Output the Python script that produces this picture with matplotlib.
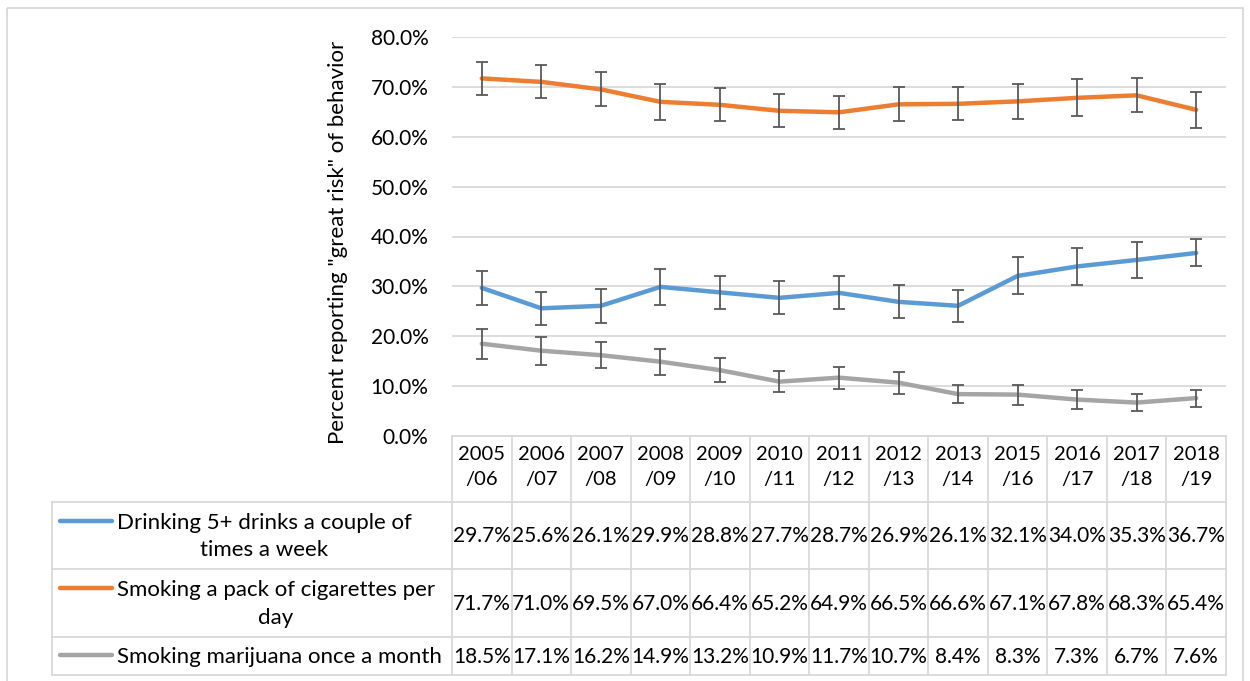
import matplotlib
matplotlib.use("Agg")
import matplotlib.pyplot as plt
import numpy as np

plt.rcParams["font.family"] = ["Lato", "DejaVu Sans"]

# --- data ---
years = ["2005/06", "2006/07", "2007/08", "2008/09", "2009/10", "2010/11", "2011/12",
         "2012/13", "2013/14", "2015/16", "2016/17", "2017/18", "2018/19"]
drinking = [29.7, 25.6, 26.1, 29.9, 28.8, 27.7, 28.7, 26.9, 26.1, 32.1, 34.0, 35.3, 36.7]
cigarettes = [71.7, 71.0, 69.5, 67.0, 66.4, 65.2, 64.9, 66.5, 66.6, 67.1, 67.8, 68.3, 65.4]
marijuana = [18.5, 17.1, 16.2, 14.9, 13.2, 10.9, 11.7, 10.7, 8.4, 8.3, 7.3, 6.7, 7.6]
# error bar half-widths (percentage points)
drinking_err = [3.4, 3.3, 3.4, 3.6, 3.3, 3.3, 3.3, 3.3, 3.2, 3.7, 3.7, 3.6, 2.7]
cigarettes_err = [3.3, 3.3, 3.4, 3.6, 3.3, 3.3, 3.3, 3.4, 3.3, 3.5, 3.7, 3.4, 3.6]
marijuana_err = [3.0, 2.8, 2.6, 2.6, 2.4, 2.1, 2.2, 2.2, 1.8, 2.0, 1.9, 1.7, 1.7]

series_names = ["Drinking 5+ drinks a couple of\ntimes a week",
                "Smoking a pack of cigarettes per\nday",
                "Smoking marijuana once a month"]
series_vals = [drinking, cigarettes, marijuana]
series_err = [drinking_err, cigarettes_err, marijuana_err]
colors = ["#5B9BD5", "#ED7D31", "#A5A5A5"]

W, H = 1250, 681
fig = plt.figure(figsize=(W / 100, H / 100), dpi=100, facecolor="white")

# plot area in pixel coords
left, right, top, bottom = 452, 1226, 37, 436
ax = fig.add_axes([left / W, 1 - bottom / H, (right - left) / W, (bottom - top) / H])
x = np.arange(len(years))
for vals, err, c in zip(series_vals, series_err, colors):
    v = np.array(vals) / 100
    ax.plot(x, v, color=c, lw=3.2, solid_capstyle="round", zorder=3)
    ax.errorbar(x, v, yerr=np.array(err) / 100, fmt="none", ecolor="#595959",
                elinewidth=1.3, capsize=4.2, capthick=1.3, zorder=4)

ax.set_xlim(-0.5, len(years) - 0.5)
ax.set_ylim(0, 0.8)
ticks = np.arange(0, 0.81, 0.1)
ax.set_yticks(ticks)
ax.set_yticklabels([f"{t * 100:.1f}%" for t in ticks], fontsize=15, color="#000000")
ax.tick_params(axis="y", length=0, pad=17)
ax.set_xticks([])
ax.grid(axis="y", color="#D9D9D9", lw=1.3)
ax.set_axisbelow(True)
for s in ax.spines.values():
    s.set_visible(False)

fig.text(338 / W, 1 - 242 / H, 'Percent reporting "great risk" of behavior', rotation=90,
         ha="center", va="center", fontsize=16)

# overlay in pixel coordinates for the table and frame
ov = fig.add_axes([0, 0, 1, 1], zorder=5)
ov.set_xlim(0, W)
ov.set_ylim(H, 0)
ov.axis("off")

gc = "#D9D9D9"
ov.add_patch(plt.Rectangle((7, 8), 1236, 700, fill=False, ec=gc, lw=1.3))

cw = (right - left) / len(years)
row_y = [436, 502, 569, 637, 675]
legend_left = 52
# horizontal lines
ov.plot([left, right], [row_y[0], row_y[0]], color=gc, lw=1.3)
for yy in row_y[1:]:
    ov.plot([legend_left, right], [yy, yy], color=gc, lw=1.3)
# vertical lines
ov.plot([legend_left, legend_left], [row_y[1], row_y[-1]], color=gc, lw=1.3)
for i in range(len(years) + 1):
    xx = left + i * cw
    ov.plot([xx, xx], [row_y[0], row_y[-1]], color=gc, lw=1.3)

# header
for i, yr in enumerate(years):
    a, b = yr.split("/")
    ov.text(left + (i + 0.5) * cw, 467, a + "\n/" + b, ha="center", va="center",
            fontsize=14.5, linespacing=1.6)

# series rows
key_y = [521, 588, 655]
for r, (name, vals, c) in enumerate(zip(series_names, series_vals, colors)):
    y0, y1 = row_y[r + 1], row_y[r + 2]
    ov.plot([60, 112], [key_y[r], key_y[r]], color=c, lw=3.2, solid_capstyle="round")
    ov.text(117, (y0 + y1) / 2 + 1, name, ha="left", va="center", multialignment="center",
            fontsize=16, linespacing=1.45)
    for i, v in enumerate(vals):
        ov.text(left + (i + 0.5) * cw, (y0 + y1) / 2 + 1, f"{v:.1f}%", ha="center",
                va="center", fontsize=15)

fig.savefig("out.png", dpi=100, facecolor="white")
